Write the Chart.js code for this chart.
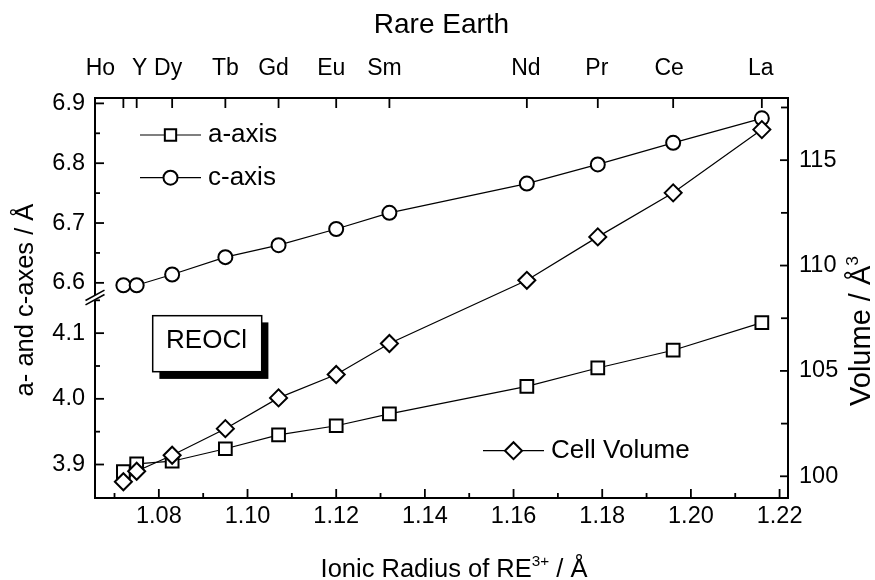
<!DOCTYPE html>
<html>
<head>
<meta charset="utf-8">
<title>REOCl lattice parameters</title>
<script src="https://cdn.jsdelivr.net/npm/chart.js@4.4.1/dist/chart.umd.min.js"></script>
<style>
  body { margin: 0; background: #fff; }
  #chart { display: block; }
</style>
</head>
<body>
<canvas id="chart" width="875" height="580"></canvas>
<script>
// ionic radii of RE3+ (CN 9), in angstrom
var elements = ['Ho', 'Y', 'Dy', 'Tb', 'Gd', 'Eu', 'Sm', 'Nd', 'Pr', 'Ce', 'La'];
var radii = [1.072, 1.075, 1.083, 1.095, 1.107, 1.120, 1.132, 1.163, 1.179, 1.196, 1.216];
var aAxis = [3.889, 3.901, 3.905, 3.924, 3.945, 3.959, 3.977, 4.019, 4.047, 4.074, 4.116];
var cAxis = [6.596, 6.596, 6.614, 6.643, 6.663, 6.690, 6.717, 6.766, 6.798, 6.834, 6.875];
var cellVolume = [99.74, 100.24, 101.0, 102.26, 103.72, 104.83, 106.30, 109.30, 111.36, 113.45, 116.45];
// little sideways shifts of the element names so Ho and Y don't collide (px)
var nameShift = [-23, 3, -4, 0, -5, -5, -5, -1, -1, -4, -1];

var FONT = '"Liberation Sans", Arial, Helvetica, sans-serif';
var xMin = 1.0656, xMax = 1.2219;

function isMultiple(v, step) {
  var q = v / step;
  return Math.abs(q - Math.round(q)) < 1e-6;
}
function pts(ys) {
  return radii.map(function (r, i) { return {x: r, y: ys[i]}; });
}
function fixWidth(w) { return function (s) { s.width = w; }; }
function fixHeight(h) { return function (s) { s.height = h; }; }

var tickFont = {family: FONT, size: 23.5, lineHeight: 1};
var axisBorder = {display: true, color: '#000', width: 2};
var noGrid = {display: false, drawTicks: false};

function yScale(extra) {
  var base = {
    type: 'linear',
    grid: noGrid,
    border: axisBorder,
    afterFit: fixWidth(95),
    ticks: {autoSkip: false, includeBounds: false, padding: 10, color: '#000', font: tickFont}
  };
  for (var k in extra) {
    if (k === 'ticks') { for (var t in extra.ticks) base.ticks[t] = extra.ticks[t]; }
    else base[k] = extra[k];
  }
  return base;
}

// text with optional superscript pieces, centred on (x, y) baseline
function richText(ctx, parts, x, y, size, rot) {
  ctx.save();
  ctx.translate(x, y);
  ctx.rotate(rot || 0);
  ctx.textAlign = 'left';
  ctx.textBaseline = 'alphabetic';
  var total = 0;
  parts.forEach(function (p) {
    ctx.font = (p[1] ? size * 0.6 : size) + 'px ' + FONT;
    total += ctx.measureText(p[0]).width;
  });
  var cx = -total / 2;
  parts.forEach(function (p) {
    ctx.font = (p[1] ? size * 0.6 : size) + 'px ' + FONT;
    ctx.fillText(p[0], cx, p[1] ? -size * 0.42 : 0);
    cx += ctx.measureText(p[0]).width;
  });
  ctx.restore();
}

var frame = {
  id: 'frame',
  afterDraw: function (chart) {
    var ctx = chart.ctx, area = chart.chartArea, s = chart.scales;
    ctx.save();
    ctx.strokeStyle = '#000';
    ctx.fillStyle = '#000';
    ctx.lineWidth = 1.8;
    function seg(x1, y1, x2, y2) {
      ctx.beginPath(); ctx.moveTo(x1, y1); ctx.lineTo(x2, y2); ctx.stroke();
    }

    // inward tick marks
    s.x.ticks.forEach(function (t) {
      var p = s.x.getPixelForValue(t.value);
      if (p > area.left + 1 && p < area.right - 1) seg(p, area.bottom, p, area.bottom - (t.label ? 9 : 5));
    });
    ['yC', 'yA'].forEach(function (id) {
      var sc = s[id];
      sc.ticks.forEach(function (t) {
        var p = sc.getPixelForValue(t.value);
        if (p > sc.top + 1 && p < sc.bottom - 1) seg(area.left, p, area.left + (t.label ? 9 : 5), p);
      });
    });
    s.yV.ticks.forEach(function (t) {
      var p = s.yV.getPixelForValue(t.value);
      if (p > area.top + 1 && p < area.bottom - 1) seg(area.right, p, area.right - (t.label ? 8 : 7), p);
    });
    radii.forEach(function (r) {
      var p = s.x2.getPixelForValue(r);
      seg(p, area.top, p, area.top + 10);
    });

    // element names on the top axis
    ctx.font = '23px ' + FONT;
    ctx.textAlign = 'center';
    ctx.textBaseline = 'alphabetic';
    elements.forEach(function (el, i) {
      ctx.fillText(el, s.x2.getPixelForValue(radii[i]) + nameShift[i], 75);
    });

    // axis break where the two left segments meet
    var by = Math.max(s.yA.top, s.yC.top) - 1.5, bx = area.left;
    ctx.fillStyle = '#fff';
    ctx.beginPath();
    ctx.moveTo(bx - 9.5, by + 3); ctx.lineTo(bx + 9.5, by - 7.4);
    ctx.lineTo(bx + 9.5, by - 3); ctx.lineTo(bx - 9.5, by + 7.4);
    ctx.closePath(); ctx.fill();
    ctx.fillStyle = '#000';
    ctx.lineWidth = 1.6;
    seg(bx - 9.5, by + 3, bx + 9.5, by - 7.4);
    seg(bx - 9.5, by + 7.4, bx + 9.5, by - 3);

    // axis titles
    richText(ctx, [['a- and c-axes / Å']], 33, 300, 25.5, -Math.PI / 2);
    richText(ctx, [['Volume / Å'], ['3', true]], 870, 331, 29, -Math.PI / 2);
    richText(ctx, [['Ionic Radius of RE'], ['3+', true], [' / Å']], 454, 576.5, 25.5, 0);

    // legend rows
    function legendRow(x0, y, style, radius, text) {
      ctx.lineWidth = 1.2;
      seg(x0, y, x0 + 61, y);
      ctx.fillStyle = '#fff';
      ctx.lineWidth = 2;
      Chart.helpers.drawPoint(ctx, {pointStyle: style, radius: radius, rotation: 0, borderWidth: 2}, x0 + 30.5, y);
      ctx.fillStyle = '#000';
      ctx.font = '26px ' + FONT;
      ctx.textAlign = 'left';
      ctx.textBaseline = 'middle';
      ctx.fillText(text, x0 + 68, y);
    }
    legendRow(140, 135, 'rect', 8, 'a-axis');
    legendRow(140, 177.7, 'circle', 7, 'c-axis');
    legendRow(483, 450.7, 'rectRot', 8.5, 'Cell Volume');

    // REOCl label box with drop shadow
    ctx.fillStyle = '#000';
    ctx.fillRect(159.4, 322.4, 109, 56.5);
    ctx.fillStyle = '#fff';
    ctx.fillRect(152.7, 315.7, 109, 56);
    ctx.lineWidth = 1.5;
    ctx.strokeRect(152.7, 315.7, 109, 56);
    ctx.fillStyle = '#000';
    ctx.font = '26px ' + FONT;
    ctx.textAlign = 'center';
    ctx.textBaseline = 'middle';
    ctx.fillText('REOCl', 206.5, 341);

    ctx.restore();
  }
};

var common = {
  xAxisID: 'x',
  borderColor: '#000',
  borderWidth: 1.2,
  pointBorderColor: '#000',
  pointBackgroundColor: '#fff',
  pointBorderWidth: 2,
  pointHoverRadius: 0,
  tension: 0,
  fill: false,
  clip: false
};
function ds(label, values, axis, style, radius, order) {
  var d = {label: label, data: pts(values), yAxisID: axis, pointStyle: style, pointRadius: radius, order: order};
  for (var k in common) d[k] = common[k];
  return d;
}

window.onload = function () {
  var ctx = document.getElementById('chart').getContext('2d');
  window.myChart = new Chart(ctx, {
    type: 'line',
    data: {
      datasets: [
        ds('Cell Volume', cellVolume, 'yV', 'rectRot', 8.5, 0),
        ds('a-axis', aAxis, 'yA', 'rect', 9, 1),
        ds('c-axis', cAxis, 'yC', 'circle', 7, 2)
      ]
    },
    plugins: [frame],
    options: {
      responsive: false,
      animation: false,
      devicePixelRatio: 1,
      layout: {padding: 0},
      plugins: {legend: {display: false}, tooltip: {enabled: false}},
      scales: {
        x: {
          type: 'linear', position: 'bottom', min: xMin, max: xMax,
          afterFit: fixHeight(82),
          grid: noGrid, border: axisBorder,
          ticks: {
            stepSize: 0.01, includeBounds: false, autoSkip: false, maxRotation: 0,
            padding: 7, color: '#000', font: tickFont,
            callback: function (v) { return isMultiple(v, 0.02) ? v.toFixed(2) : ''; }
          }
        },
        x2: {
          type: 'linear', position: 'top', min: xMin, max: xMax,
          afterFit: fixHeight(98),
          grid: noGrid, border: axisBorder,
          ticks: {display: false},
          title: {
            display: true, text: 'Rare Earth', color: '#000',
            font: {family: FONT, size: 28, lineHeight: 1},
            padding: {top: 11, bottom: 0}
          }
        },
        // lower segment of the broken left axis (listed first: stacked scales fill from the bottom)
        yA: yScale({
          position: 'left', stack: 'left', stackWeight: 199, min: 3.849, max: 4.152,
          ticks: {stepSize: 0.05, callback: function (v) { return isMultiple(v, 0.1) ? v.toFixed(1) : ''; }}
        }),
        yC: yScale({
          position: 'left', stack: 'left', stackWeight: 201, min: 6.573, max: 6.909,
          ticks: {stepSize: 0.05, callback: function (v) { return isMultiple(v, 0.1) ? v.toFixed(1) : ''; }}
        }),
        yV: yScale({
          position: 'right', min: 98.97, max: 117.95, afterFit: fixWidth(87),
          ticks: {padding: 11, stepSize: 2.5, callback: function (v) { return isMultiple(v, 5) ? String(v) : ''; }}
        })
      }
    }
  });
};
</script>
</body>
</html>
